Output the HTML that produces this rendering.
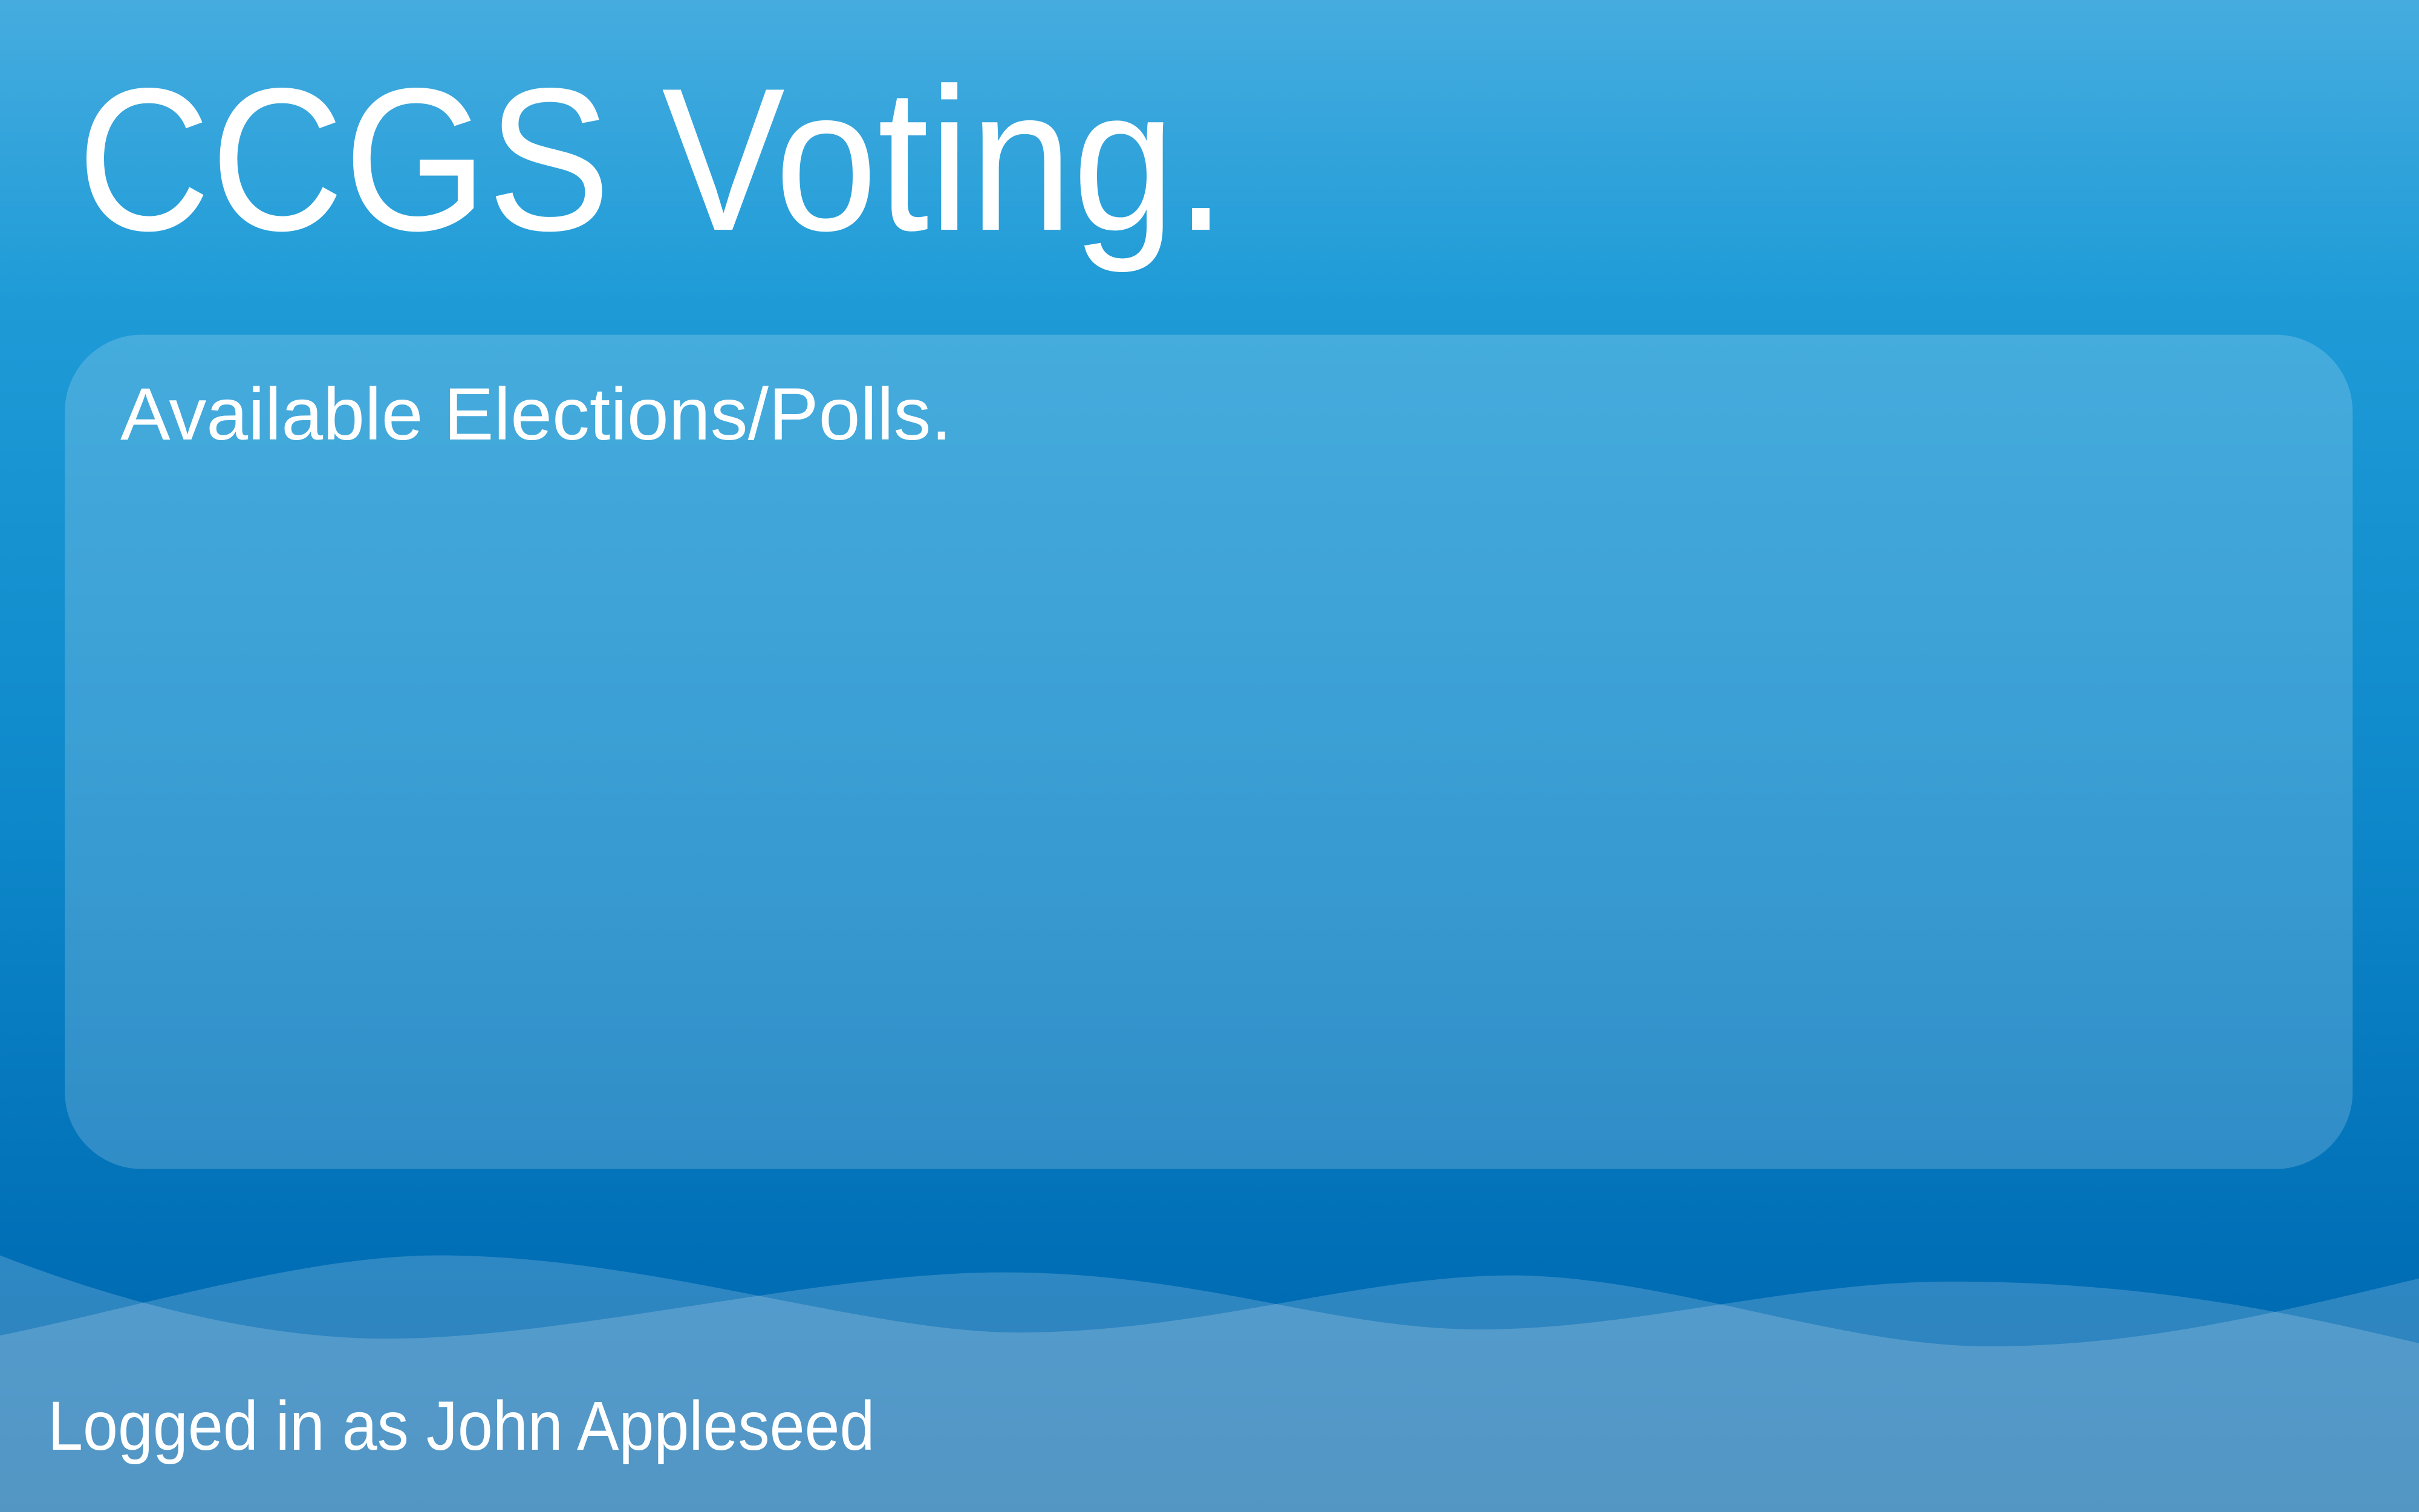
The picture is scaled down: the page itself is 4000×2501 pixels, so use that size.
<!DOCTYPE html>
<html><head><meta charset="utf-8"><style>
html,body{margin:0;padding:0;width:4000px;height:2501px;overflow:hidden}
svg{display:block}
text{font-family:"Liberation Sans","DejaVu Sans",sans-serif;fill:#fff}
</style></head><body>
<svg width="4000" height="2501" viewBox="0 0 1568 980.4" preserveAspectRatio="none" xmlns="http://www.w3.org/2000/svg">
<defs>
<linearGradient id="bg" x1="0" y1="0" x2="0" y2="1">
<stop offset="0" stop-color="#46acdf"/>
<stop offset="0.2" stop-color="#1e9bd7"/>
<stop offset="0.55" stop-color="#0d87c9"/>
<stop offset="0.85" stop-color="#006db5"/>
<stop offset="1" stop-color="#0063a8"/>
</linearGradient>
</defs>
<rect x="0" y="0" width="1568" height="980.4" fill="url(#bg)"/>
<text x="50" y="149" font-size="132" textLength="745" lengthAdjust="spacingAndGlyphs">CCGS Voting.</text>
<rect x="42" y="217" width="1483" height="541" rx="50" ry="50" fill="#ffffff" fill-opacity="0.18"/>
<text x="78" y="285" font-size="48" textLength="539" lengthAdjust="spacingAndGlyphs">Available Elections/Polls.</text>
<path d="M0,866 C100,845 200,814 285,814 C420,814 560,864 660,864 C780,864 880,827 980,827 C1080,827 1190,873 1290,873 C1390,873 1480,850 1568,829 L1568,981 L0,981 Z" fill="#ffffff" fill-opacity="0.18"/>
<path d="M0,814 C80,845 170,868 250,868 C370,868 530,825 650,825 C780,825 860,862 960,862 C1060,862 1160,831 1265,831 C1390,831 1480,850 1568,871 L1568,981 L0,981 Z" fill="#ffffff" fill-opacity="0.18"/>
<text x="31" y="940" font-size="45" textLength="536" lengthAdjust="spacingAndGlyphs">Logged in as John Appleseed</text>
</svg>
</body></html>
